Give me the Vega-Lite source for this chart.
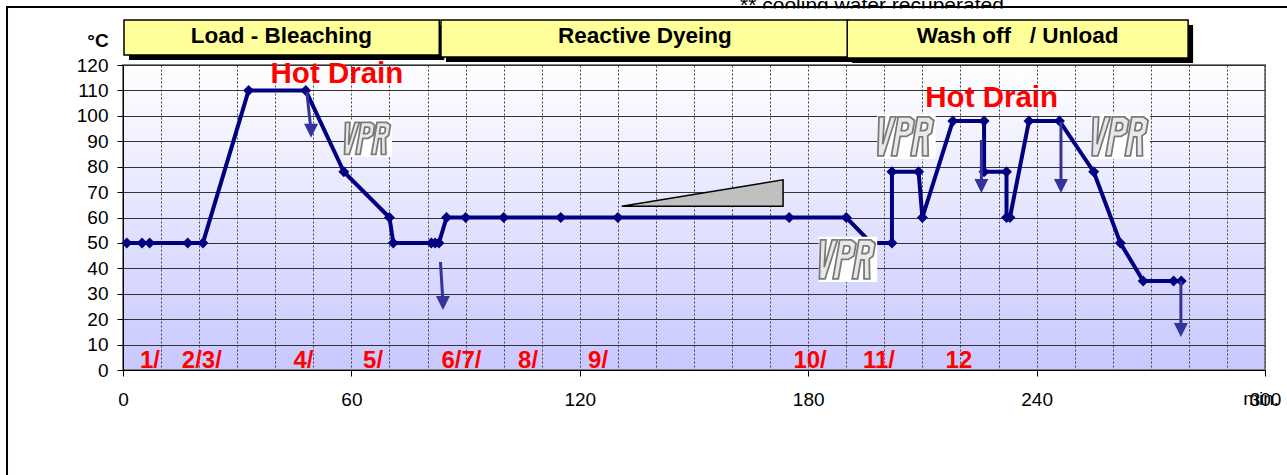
{
  "$schema": "https://vega.github.io/schema/vega-lite/v6.json",
  "width": 1142,
  "height": 305,
  "autosize": {"type": "none"},
  "padding": {"left": 123, "top": 65, "right": 22, "bottom": 105},
  "background": "white",
  "view": {
    "fill": {"gradient": "linear", "x1": 0, "y1": 0, "x2": 0, "y2": 1, "stops": [{"offset": 0, "color": "#ffffff"}, {"offset": 1, "color": "#c8c8ff"}]},
    "stroke": "#808080",
    "strokeWidth": 2
  },
  "config": {"font": "Liberation Sans"},
  "datasets": {
    "profile": [
      {"i": 0, "x": 1, "y": 50}, {"i": 1, "x": 5, "y": 50}, {"i": 2, "x": 7, "y": 50}, {"i": 3, "x": 17, "y": 50},
      {"i": 4, "x": 21, "y": 50}, {"i": 5, "x": 33, "y": 110}, {"i": 6, "x": 48, "y": 110}, {"i": 7, "x": 58, "y": 78},
      {"i": 8, "x": 70, "y": 60}, {"i": 9, "x": 71, "y": 50}, {"i": 10, "x": 81, "y": 50}, {"i": 11, "x": 82, "y": 50},
      {"i": 12, "x": 83, "y": 50}, {"i": 13, "x": 85, "y": 60}, {"i": 14, "x": 90, "y": 60}, {"i": 15, "x": 100, "y": 60},
      {"i": 16, "x": 115, "y": 60}, {"i": 17, "x": 130, "y": 60}, {"i": 18, "x": 175, "y": 60}, {"i": 19, "x": 190, "y": 60},
      {"i": 20, "x": 196.5, "y": 50}, {"i": 21, "x": 202, "y": 50}, {"i": 22, "x": 202, "y": 78}, {"i": 23, "x": 209, "y": 78},
      {"i": 24, "x": 210, "y": 60}, {"i": 25, "x": 218, "y": 98}, {"i": 26, "x": 226.2, "y": 98}, {"i": 27, "x": 226.2, "y": 78},
      {"i": 28, "x": 232.1, "y": 78}, {"i": 29, "x": 232.1, "y": 60}, {"i": 30, "x": 233, "y": 60}, {"i": 31, "x": 238, "y": 98},
      {"i": 32, "x": 246, "y": 98}, {"i": 33, "x": 255, "y": 78}, {"i": 34, "x": 262, "y": 50}, {"i": 35, "x": 268, "y": 35},
      {"i": 36, "x": 276, "y": 35}, {"i": 37, "x": 278, "y": 35}
    ],
    "arrows": [
      {"x": 48.3, "y": 109.2, "x2": 49.4, "y2": 94.1},
      {"x": 83.4, "y": 42.5, "x2": 84.05, "y2": 26.4},
      {"x": 225.5, "y": 90.5, "x2": 225.5, "y2": 72.4},
      {"x": 246.4, "y": 97.6, "x2": 246.4, "y2": 72.4},
      {"x": 277.9, "y": 35, "x2": 277.9, "y2": 15.75}
    ],
    "headers": [
      {"x": 0.26, "x2": 83.08, "y": 137.72, "y2": 123.94},
      {"x": 83.53, "x2": 190.5, "y": 137.72, "y2": 123.15},
      {"x": 190.25, "x2": 279.8, "y": 137.72, "y2": 122.76}
    ],
    "headtext": [
      {"x": 41.6, "y": 128.66, "t": "Load - Bleaching"},
      {"x": 137.1, "y": 128.66, "t": "Reactive Dyeing"},
      {"x": 235.0, "y": 128.66, "t": "Wash off\u00a0\u00a0\u00a0/ Unload"}
    ],
    "hot": [
      {"x": 56.2, "y": 112.9, "t": "Hot Drain"},
      {"x": 228.2, "y": 103.4, "t": "Hot Drain"}
    ],
    "steps": [
      {"x": 7.1, "y": 0.8, "t": "1/"}, {"x": 20.7, "y": 0.8, "t": "2/3/"}, {"x": 47.4, "y": 0.8, "t": "4/"},
      {"x": 65.7, "y": 0.8, "t": "5/"}, {"x": 88.9, "y": 0.8, "t": "6/7/"}, {"x": 106.4, "y": 0.8, "t": "8/"},
      {"x": 124.8, "y": 0.8, "t": "9/"}, {"x": 180.5, "y": 0.8, "t": "10/"}, {"x": 198.6, "y": 0.8, "t": "11/"},
      {"x": 219.6, "y": 0.8, "t": "12"}
    ],
    "vpr": [
      {"x": 64.36, "y": 91.14}, {"x": 190.44, "y": 43.5}, {"x": 205.8, "y": 91.9}, {"x": 262.1, "y": 91.9}
    ]
  },
  "encoding": {
    "x": {
      "field": "x", "type": "quantitative",
      "scale": {"domain": [0, 300], "nice": false, "zero": false},
      "axis": {
        "title": null,
        "values": [0, 10, 20, 30, 40, 50, 60, 70, 80, 90, 100, 110, 120, 130, 140, 150, 160, 170, 180, 190, 200, 210, 220, 230, 240, 250, 260, 270, 280, 290, 300],
        "labelExpr": "datum.value % 60 === 0 ? datum.label : ''",
        "labelOverlap": false,
        "labelFlush": false,
        "labelFontSize": 19,
        "labelFont": "Liberation Sans",
        "labelColor": "#000000",
        "labelPadding": 14,
        "grid": true,
        "gridColor": "#444444",
        "gridDash": [2, 2],
        "gridWidth": 1,
        "tickSize": 6,
        "tickColor": "#000000",
        "tickOpacity": {"condition": {"test": "datum.value % 60 === 0", "value": 1}, "value": 0},
        "domainColor": "#000000"
      }
    },
    "y": {
      "field": "y", "type": "quantitative",
      "scale": {"domain": [0, 120], "nice": false, "zero": false},
      "axis": {
        "title": null,
        "values": [0, 10, 20, 30, 40, 50, 60, 70, 80, 90, 100, 110, 120],
        "labelFontSize": 19,
        "labelFont": "Liberation Sans",
        "labelColor": "#000000",
        "labelPadding": 9,
        "grid": true,
        "gridColor": "#333333",
        "gridWidth": 1,
        "tickSize": 6,
        "tickColor": "#000000",
        "domainColor": "#000000"
      }
    }
  },
  "layer": [
    {
      "data": {"values": [{"x": 162.1, "y": 140.87, "t": "** cooling water recuperated"}]},
      "mark": {"type": "text", "align": "left", "baseline": "alphabetic", "fontSize": 21, "font": "Liberation Sans", "color": "#000000"},
      "encoding": {"text": {"field": "t"}}
    },
    {
      "data": {"values": [{"x": 159, "x2": 236, "y": 142.2, "y2": 138.1}]},
      "mark": {"type": "rect", "color": "#ffffff"},
      "encoding": {"x2": {"field": "x2"}, "y2": {"field": "y2"}}
    },
    {
      "data": {"values": [{"x": -30.47, "x2": 320, "y": 142.83, "y2": -60}]},
      "mark": {"type": "rect", "fillOpacity": 0, "stroke": "#000000", "strokeWidth": 2},
      "encoding": {"x2": {"field": "x2"}, "y2": {"field": "y2"}}
    },
    {
      "data": {"name": "headers"},
      "mark": {"type": "rect", "color": "#000000", "xOffset": 5, "x2Offset": 5, "yOffset": 5, "y2Offset": 5},
      "encoding": {"x2": {"field": "x2"}, "y2": {"field": "y2"}}
    },
    {
      "data": {"name": "headers"},
      "mark": {"type": "rect", "fill": "#ffff99", "stroke": "#000000", "strokeWidth": 1.5},
      "encoding": {"x2": {"field": "x2"}, "y2": {"field": "y2"}}
    },
    {
      "data": {"name": "headtext"},
      "mark": {"type": "text", "align": "center", "baseline": "alphabetic", "fontSize": 22.5, "fontWeight": "bold", "font": "Liberation Sans", "color": "#000000"},
      "encoding": {"text": {"field": "t"}}
    },
    {
      "data": {"values": [{"x": -6.57, "y": 127.2, "t": "°C"}]},
      "mark": {"type": "text", "align": "center", "baseline": "alphabetic", "fontSize": 19, "fontWeight": "bold", "font": "Liberation Sans", "color": "#000000"},
      "encoding": {"text": {"field": "t"}}
    },
    {
      "data": {"values": [{"x": 299, "y": -13.9, "t": "min."}]},
      "mark": {"type": "text", "align": "center", "baseline": "alphabetic", "fontSize": 19, "font": "Liberation Sans", "color": "#000000"},
      "encoding": {"text": {"field": "t"}}
    },
    {
      "data": {"values": [{"x": 131, "y": 64.4, "y2": 64.4}, {"x": 173.4, "y": 74.8, "y2": 64.4}]},
      "mark": {"type": "area", "color": "#c0c0c0", "stroke": "#000000", "strokeWidth": 1.5, "opacity": 1},
      "encoding": {"y2": {"field": "y2"}}
    },
    {
      "data": {"name": "profile"},
      "mark": {"type": "line", "color": "#000080", "strokeWidth": 4, "strokeJoin": "round",
        "point": {"shape": "diamond", "size": 121, "filled": true, "color": "#000080", "opacity": 1}},
      "encoding": {"order": {"field": "i", "type": "quantitative"}}
    },
    {
      "data": {"name": "arrows"},
      "mark": {"type": "rule", "color": "#333399", "strokeWidth": 3},
      "encoding": {"x2": {"field": "x2"}, "y2": {"field": "y2"}}
    },
    {
      "data": {"name": "arrows"},
      "mark": {"type": "point", "shape": "M-1,-1L1,-1L0,1Z", "size": 196, "filled": true, "color": "#333399", "opacity": 1},
      "encoding": {
        "x": {"field": "x2", "type": "quantitative", "scale": {"domain": [0, 300], "nice": false, "zero": false}},
        "y": {"field": "y2", "type": "quantitative", "scale": {"domain": [0, 120], "nice": false, "zero": false}}
      }
    },
    {
      "data": {"name": "hot"},
      "mark": {"type": "text", "align": "center", "baseline": "alphabetic", "fontSize": 29.5, "fontWeight": "bold", "font": "Liberation Sans", "color": "#ff0000"},
      "encoding": {"text": {"field": "t"}}
    },
    {
      "data": {"name": "steps"},
      "mark": {"type": "text", "align": "center", "baseline": "alphabetic", "fontSize": 24, "fontWeight": "bold", "font": "Liberation Sans", "color": "#ff0000"},
      "encoding": {"text": {"field": "t"}}
    },
    {
      "data": {"name": "vpr"},
      "mark": {"type": "point", "shape": "M-1.5,-1.16L1.5,-1.16L1.5,1.16L-1.5,1.16Z", "filled": true, "fill": "#ffffff", "strokeWidth": 0, "opacity": 1},
      "encoding": {"size": {"condition": {"test": "datum.x < 100", "value": 1024}, "value": 1521}}
    },
    {
      "data": {"name": "vpr"},
      "mark": {"type": "point",
        "shape": "M-1.407,-1L-1.131,-1L-1.215,0.4L-0.812,-1L-0.537,-1L-1.175,1L-1.465,1ZM-0.421,-1L0.189,-1L0.418,-0.82L0.307,-0.18L0.015,0L-0.319,0L-0.493,1L-0.769,1ZM-0.197,-0.7L-0.267,-0.3L-0.049,-0.3L0.067,-0.38L0.107,-0.62L0.02,-0.7ZM0.566,-1L1.175,-1L1.404,-0.82L1.293,-0.18L1.093,-0.03L1.117,1L0.827,1L0.824,0.02L0.664,0.02L0.493,1L0.218,1ZM0.789,-0.7L0.719,-0.3L0.937,-0.3L1.053,-0.38L1.093,-0.62L1.006,-0.7Z",
        "filled": true, "fill": "#e8e8e8", "stroke": "#7a7a7a", "strokeWidth": 1.8, "opacity": 1},
      "encoding": {"size": {"condition": {"test": "datum.x < 100", "value": 1024}, "value": 1521}}
    }
  ]
}
